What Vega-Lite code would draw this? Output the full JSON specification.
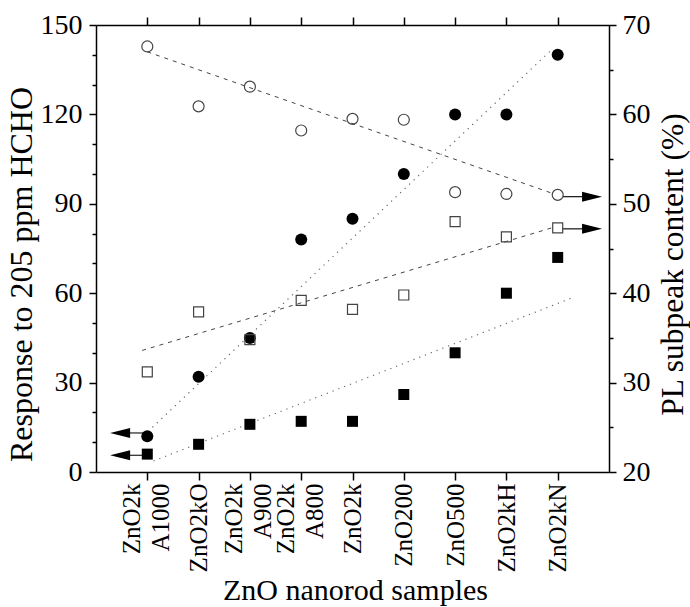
{
  "$schema": "https://vega.github.io/schema/vega-lite/v6.json",
  "width": 513,
  "height": 447,
  "autosize": {"type": "none"},
  "padding": {"left": 96, "top": 25, "right": 81, "bottom": 135},
  "background": "white",
  "config": {
    "font": "Liberation Serif",
    "view": {"stroke": null},
    "axis": {
      "labelColor": "black",
      "titleColor": "black",
      "domainColor": "black",
      "tickColor": "black",
      "domainWidth": 1.5,
      "tickWidth": 1.5,
      "grid": false,
      "titleFontWeight": "normal"
    }
  },
  "datasets": {
    "fc": [
      {"x": 1, "y": 12}, {"x": 2, "y": 32}, {"x": 3, "y": 45}, {"x": 4, "y": 78}, {"x": 5, "y": 85},
      {"x": 6, "y": 100}, {"x": 7, "y": 120}, {"x": 8, "y": 120}, {"x": 9, "y": 140}
    ],
    "fs": [
      {"x": 1, "y": 6}, {"x": 2, "y": 9.3}, {"x": 3, "y": 16}, {"x": 4, "y": 17}, {"x": 5, "y": 17},
      {"x": 6, "y": 26}, {"x": 7, "y": 40}, {"x": 8, "y": 60}, {"x": 9, "y": 72}
    ],
    "dotL": [
      {"series": "c", "x": 1.1, "y": 15}, {"series": "c", "x": 8.9, "y": 142},
      {"series": "s", "x": 1.12, "y": 3.7}, {"series": "s", "x": 9.29, "y": 58.5}
    ],
    "arrL": [
      {"x": 0.66, "x2": 0.92, "y": 13.1},
      {"x": 0.66, "x2": 0.9, "y": 5.6}
    ],
    "headL": [
      {"x": 0.47, "y": 13.1},
      {"x": 0.47, "y": 5.6}
    ],
    "oc": [
      {"x": 1, "y": 67.6}, {"x": 2, "y": 60.9}, {"x": 3, "y": 63.1}, {"x": 4, "y": 58.2}, {"x": 5, "y": 59.5},
      {"x": 6, "y": 59.4}, {"x": 7, "y": 51.3}, {"x": 8, "y": 51.1}, {"x": 9, "y": 51.0}
    ],
    "os": [
      {"x": 1, "y": 31.2}, {"x": 2, "y": 37.9}, {"x": 3, "y": 34.8}, {"x": 4, "y": 39.2}, {"x": 5, "y": 38.2},
      {"x": 6, "y": 39.8}, {"x": 7, "y": 48.0}, {"x": 8, "y": 46.3}, {"x": 9, "y": 47.3}
    ],
    "dashR": [
      {"series": "c", "x": 1.0, "y": 67.0}, {"series": "c", "x": 8.93, "y": 51.1},
      {"series": "s", "x": 0.9, "y": 33.6}, {"series": "s", "x": 8.88, "y": 47.3}
    ],
    "arrR": [
      {"x": 9.1, "x2": 9.48, "y": 50.8},
      {"x": 9.1, "x2": 9.48, "y": 47.2}
    ],
    "headR": [
      {"x": 9.67, "y": 50.8},
      {"x": 9.67, "y": 47.2}
    ]
  },
  "layer": [
    {
      "encoding": {
        "x": {
          "field": "x", "type": "quantitative",
          "scale": {"domain": [0, 10], "nice": false, "zero": false},
          "axis": {
            "orient": "bottom",
            "values": [1, 2, 3, 4, 5, 6, 7, 8, 9],
            "labelExpr": "datum.value === 1 ? ['ZnO2k','A1000'] : datum.value === 2 ? 'ZnO2kO' : datum.value === 3 ? ['ZnO2k','A900'] : datum.value === 4 ? ['ZnO2k','A800'] : datum.value === 5 ? 'ZnO2k' : datum.value === 6 ? 'ZnO200' : datum.value === 7 ? 'ZnO500' : datum.value === 8 ? 'ZnO2kH' : 'ZnO2kN'",
            "labelFont": "Liberation Serif",
            "titleFont": "Liberation Serif",
            "labelAngle": -90,
            "labelAlign": "right",
            "labelBaseline": "middle",
            "labelFontSize": 25,
            "labelLineHeight": 29,
            "labelPadding": 3,
            "labelOffset": {"condition": {"test": "datum.value === 1 || datum.value === 3 || datum.value === 4", "value": -16}, "value": 0},
            "tickSize": 8,
            "labelOverlap": false,
            "labelFlush": false,
            "title": "ZnO nanorod samples",
            "titleFontSize": 30,
            "titleX": 259,
            "titleY": 127,
            "titleBaseline": "alphabetic",
            "titleAlign": "center"
          }
        },
        "y": {
          "field": "y", "type": "quantitative",
          "scale": {"domain": [0, 150], "nice": false},
          "axis": {
            "orient": "left",
            "values": [0, 10, 20, 30, 40, 50, 60, 70, 80, 90, 100, 110, 120, 130, 140, 150],
            "labelExpr": "datum.value % 30 === 0 ? datum.label : ''",
            "labelFont": "Liberation Serif",
            "titleFont": "Liberation Serif",
            "tickSize": {"condition": {"test": "datum.value % 30 === 0", "value": 7}, "value": 4},
            "labelFontSize": 28,
            "labelPadding": 7,
            "labelOverlap": false,
            "labelFlush": false,
            "title": "Response to 205 ppm HCHO",
            "titleFontSize": 32,
            "titleAngle": -90,
            "titleX": -65,
            "titleY": 249,
            "titleBaseline": "alphabetic",
            "titleAlign": "center"
          }
        }
      },
      "layer": [
        {
          "data": {"name": "dotL"},
          "mark": {"type": "line", "color": "#666", "strokeWidth": 1.2, "strokeDash": [1.2, 5]},
          "encoding": {"detail": {"field": "series"}}
        },
        {
          "data": {"name": "arrL"},
          "mark": {"type": "rule", "color": "#333", "strokeWidth": 1.3},
          "encoding": {"x2": {"field": "x2"}}
        },
        {
          "data": {"name": "headL"},
          "mark": {"type": "point", "shape": "M-1,0L1,-0.5L1,0.5Z", "filled": true, "color": "black", "opacity": 1, "size": 400}
        },
        {
          "data": {"name": "fc"},
          "mark": {"type": "point", "shape": "circle", "filled": true, "color": "black", "opacity": 1, "size": 144}
        },
        {
          "data": {"name": "fs"},
          "mark": {"type": "point", "shape": "square", "filled": true, "color": "black", "opacity": 1, "size": 121}
        }
      ]
    },
    {
      "encoding": {
        "x": {
          "field": "x", "type": "quantitative",
          "scale": {"domain": [0, 10], "nice": false, "zero": false},
          "axis": {
            "orient": "top",
            "values": [1, 2, 3, 4, 5, 6, 7, 8, 9],
            "labels": false,
            "tickSize": 8,
            "title": null
          }
        },
        "y": {
          "field": "y", "type": "quantitative",
          "scale": {"domain": [20, 70], "nice": false, "zero": false},
          "axis": {
            "orient": "right",
            "values": [20, 25, 30, 35, 40, 45, 50, 55, 60, 65, 70],
            "labelExpr": "datum.value % 10 === 0 ? datum.label : ''",
            "labelFont": "Liberation Serif",
            "titleFont": "Liberation Serif",
            "tickSize": {"condition": {"test": "datum.value % 10 === 0", "value": 7}, "value": 4},
            "labelFontSize": 28,
            "labelPadding": 6,
            "labelOverlap": false,
            "labelFlush": false,
            "title": "PL subpeak content (%)",
            "titleFontSize": 31.5,
            "titleAngle": -90,
            "titleX": 73,
            "titleY": 239,
            "titleBaseline": "alphabetic",
            "titleAlign": "center"
          }
        }
      },
      "layer": [
        {
          "data": {"name": "dashR"},
          "mark": {"type": "line", "color": "#444", "strokeWidth": 1, "strokeDash": [4, 5]},
          "encoding": {"detail": {"field": "series"}}
        },
        {
          "data": {"name": "arrR"},
          "mark": {"type": "rule", "color": "#222", "strokeWidth": 1.3},
          "encoding": {"x2": {"field": "x2"}}
        },
        {
          "data": {"name": "headR"},
          "mark": {"type": "point", "shape": "M1,0L-1,-0.5L-1,0.5Z", "filled": true, "color": "black", "opacity": 1, "size": 400}
        },
        {
          "data": {"name": "oc"},
          "mark": {"type": "point", "shape": "circle", "filled": false, "color": "#444", "strokeWidth": 1.2, "opacity": 1, "size": 121}
        },
        {
          "data": {"name": "os"},
          "mark": {"type": "point", "shape": "square", "filled": false, "color": "#444", "strokeWidth": 1.2, "opacity": 1, "size": 100}
        }
      ]
    }
  ],
  "resolve": {
    "scale": {"x": "independent", "y": "independent"},
    "axis": {"x": "independent", "y": "independent"}
  }
}
